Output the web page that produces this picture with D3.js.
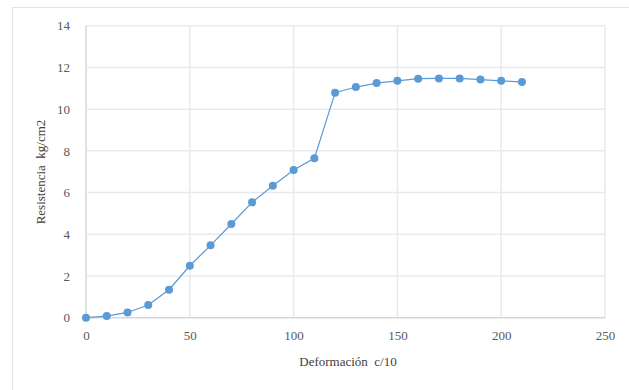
<!DOCTYPE html>
<html><head><meta charset="utf-8">
<script src="https://cdn.jsdelivr.net/npm/d3@7"></script>
<style>body{margin:0;background:#fff}svg{display:block}svg text{font-family:'Liberation Serif','Times New Roman',serif}</style>
</head><body>
<svg id="c" width="629" height="390"></svg>
<script>
const xValues = [0,10,20,30,40,50,60,70,80,90,100,110,120,130,140,150,160,170,180,190,200,210];
const yValues = [0,0.08,0.25,0.61,1.34,2.49,3.47,4.49,5.53,6.33,7.08,7.64,10.79,11.06,11.25,11.36,11.46,11.47,11.47,11.42,11.36,11.30];
const xTicks = [0,50,100,150,200,250];
const yTicks = [0,2,4,6,8,10,12,14];
const xTitle = "Deformación  c/10";
const yTitle = "Resistencia  kg/cm2";

const svg = d3.select("#c");
const font = "'Liberation Serif','Times New Roman',serif";
svg.append("rect").attr("x",12.5).attr("y",7.5).attr("width",640).attr("height",400)
  .attr("fill","#fff").attr("stroke","#e3e5e8");

const x = d3.scaleLinear().domain([0,250]).range([86,605]);
const y = d3.scaleLinear().domain([0,14]).range([317.7,25.7]);

const g = svg.append("g");
g.selectAll(".gx").data(xTicks).enter().append("line")
  .attr("x1",d=>x(d)).attr("x2",d=>x(d)).attr("y1",y(0)).attr("y2",y(14))
  .attr("stroke",d=>d===0?"#d3d7dd":"#e6eaf0").attr("stroke-width",1.5);
g.selectAll(".gy").data(yTicks).enter().append("line")
  .attr("y1",d=>y(d)).attr("y2",d=>y(d)).attr("x1",x(0)).attr("x2",x(250))
  .attr("stroke",d=>d===0?"#d3d7dd":"#e6eaf0").attr("stroke-width",1.5);

const xAxis = d3.axisBottom(x).tickValues(xTicks).tickSize(0).tickPadding(13);
const yAxis = d3.axisLeft(y).tickValues(yTicks).tickSize(0).tickPadding(16);
const ax = svg.append("g").attr("transform",`translate(0,${y(0)})`).call(xAxis);
const ay = svg.append("g").attr("transform",`translate(${x(0)},0)`).call(yAxis);
[ax,ay].forEach(a=>{
  a.attr("font-family",null).attr("font-size",null);
  a.select(".domain").remove();
  a.selectAll("text").style("font-family",font).style("font-size","13px").attr("fill","#595959");
});

const line = d3.line().x((d,i)=>x(xValues[i])).y(d=>y(d));
svg.append("path").datum(yValues).attr("d",line).attr("fill","none")
  .attr("stroke","#5b9bd5").attr("stroke-width",1.25);
svg.selectAll(".pt").data(yValues).enter().append("circle")
  .attr("cx",(d,i)=>x(xValues[i])).attr("cy",d=>y(d)).attr("r",4)
  .attr("fill","#5b9bd5");

svg.append("text").attr("x",348).attr("y",366).attr("text-anchor","middle")
  .style("font-size","13px").attr("fill","#404040")
  .style("white-space","pre").text(xTitle);
svg.append("text").attr("transform","translate(45,172) rotate(-90)").attr("text-anchor","middle")
  .style("font-size","13px").attr("fill","#404040")
  .style("white-space","pre").text(yTitle);
</script>
</body></html>
